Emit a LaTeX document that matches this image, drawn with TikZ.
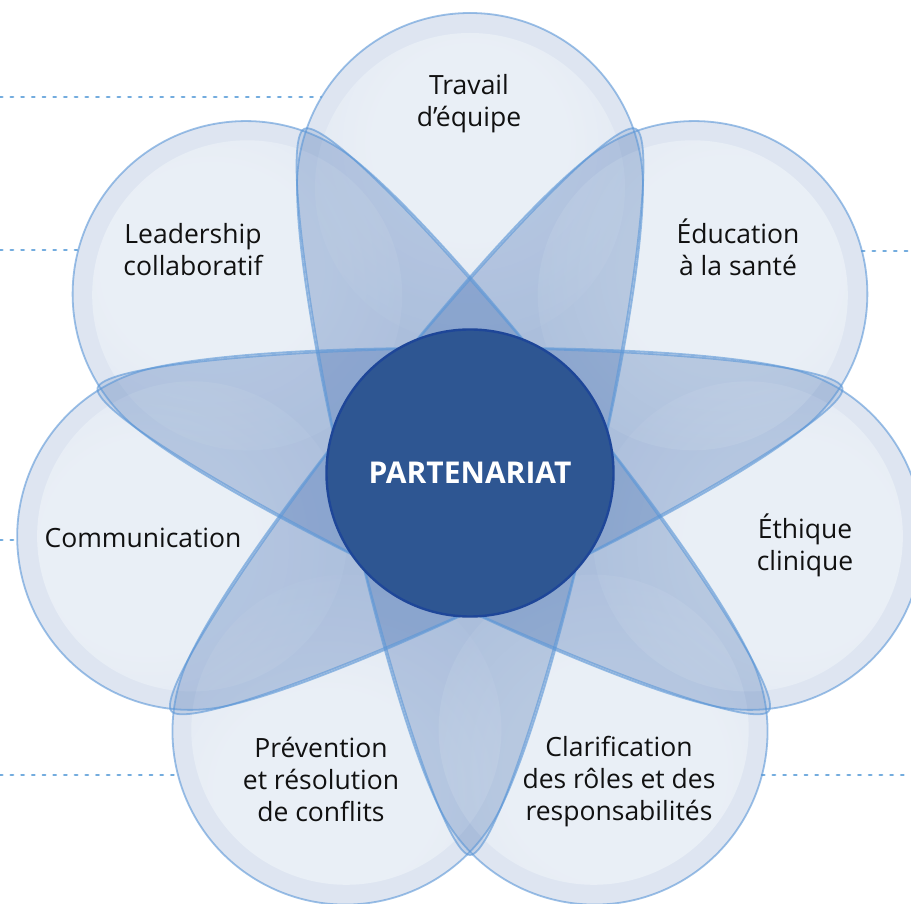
\documentclass[tikz,border=0pt]{standalone}
\usepackage{fontspec}
\setmainfont{Open Sans}
\usetikzlibrary{fadings}
\pgfdeclareradialshading{glowshade}{\pgfpointorigin}{%
  color(0pt)=(pgftransparent!0); color(12pt)=(pgftransparent!0);
  color(28.45pt)=(pgftransparent!100); color(50pt)=(pgftransparent!100)}
\pgfdeclarefading{glowfade}{\pgfuseshading{glowshade}}
\definecolor{petalfill}{RGB}{60,105,175}
\definecolor{petalglowc}{RGB}{130,163,204}
\definecolor{petalline}{RGB}{90,150,215}
\definecolor{dotline}{RGB}{115,172,222}
\definecolor{corefill}{RGB}{46,86,146}
\definecolor{coreline}{RGB}{30,70,152}
\definecolor{labeltext}{RGB}{17,17,17}
\tikzset{
  petalshape/.style={insert path={(0,-382) .. controls (-40,-382) and (-173,120) .. (-173,287)
     arc[start angle=180,end angle=0,radius=173] .. controls (173,120) and (40,-382) .. (0,-382) -- cycle}},
  petalbody/.style={fill=petalfill},
  petalglow/.style={fill=petalglowc, path fading=glowfade},
  petaledge/.style={draw=petalline, draw opacity=0.6, line width=1.8},
  dotted line/.style={draw=dotline, line width=2.6, line cap=round, dash pattern=on 2.4 off 8.3},
  lbl/.style={text=labeltext, align=center, font=\fontsize{26.5}{32}\selectfont, inner sep=0pt},
}
\begin{document}
\begin{tikzpicture}[x=1pt,y=1pt]
\useasboundingbox (0,0) rectangle (911,903);
\clip (0,0) rectangle (911,903);
\fill[white] (0,0) rectangle (911,903);
% dotted guide lines
\coordinate (l1a) at (0,806);   \coordinate (l1b) at (321,806);
\coordinate (l2a) at (0,653);   \coordinate (l2b) at (77,653);
\coordinate (l3a) at (0,363);   \coordinate (l3b) at (17,363);
\coordinate (l4a) at (0,128);   \coordinate (l4b) at (178,128);
\coordinate (r1a) at (862,652); \coordinate (r1b) at (911,652);
\coordinate (r2a) at (762,128); \coordinate (r2b) at (911,128);
\draw[dotted line] (l1a) -- (l1b);
\draw[dotted line] (l2a) -- (l2b);
\draw[dotted line] (l3a) -- (l3b);
\draw[dotted line] (l4a) -- (l4b);
\draw[dotted line] (r1a) -- (r1b);
\draw[dotted line] (r2a) -- (r2b);
% petals
\foreach \k in {0,...,6}{
  \begin{scope}[shift={(470,430)},rotate=\k*360/7, transparency group, opacity=0.17]
    \path[petalbody, petalshape];
    \begin{scope}
      \clip (0,285) circle[radius=155];
      \fill[petalglow] (0,330) circle[radius=200];
    \end{scope}
  \end{scope}
}
\foreach \k in {0,...,6}{
  \begin{scope}[shift={(470,430)},rotate=\k*360/7]
    \path[petaledge, petalshape];
  \end{scope}
}
% centre
\node[circle, minimum size=287, inner sep=0pt, fill=corefill, draw=coreline, line width=2.4,
      text=white, font=\fontsize{30}{36}\selectfont\bfseries] (core) at (470,430) {PARTENARIAT};
% labels
\node[lbl] (travail) at (469,799.5) {Travail\\d’équipe};
\node[lbl] (leader) at (193,653.5) {Leadership\\collaboratif};
\node[lbl] (educ) at (738,656) {Éducation\\à la santé};
\node[lbl] (comm) at (143,365) {Communication};
\node[lbl] (ethique) at (805,358) {Éthique\\clinique};
\node[lbl] (prev) at (321,124) {Prévention\\et résolution\\de conflits};
\node[lbl] (clar) at (619,121) {Clarification\\des rôles et des\\responsabilités};
\end{tikzpicture}
\end{document}
